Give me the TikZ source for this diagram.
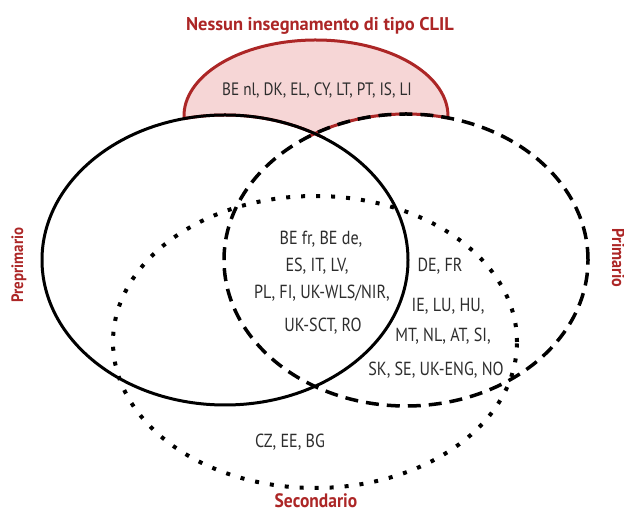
\documentclass[tikz,border=0pt]{standalone}
\usepackage{fontspec}
\setmainfont{PT Sans}
\newfontfamily\countryfont[FakeStretch=0.85]{PT Sans}
\newfontfamily\groupfont[FakeStretch=0.9]{PT Sans Bold}
\newfontfamily\titlefont{PT Sans Bold}
\usepackage{tikz}

\definecolor{clilred}{RGB}{172,38,38}
\definecolor{clilpink}{RGB}{246,214,214}
\definecolor{textgray}{RGB}{45,45,45}

\begin{document}
\begin{tikzpicture}[
				x=1bp, y=1bp,
				country list/.style={
					font=\countryfont\fontsize{19}{22}\selectfont,
					text=textgray,
					anchor=base,
					inner sep=0pt
				},
				group label/.style={
					font=\groupfont\fontsize{18}{21}\selectfont,
					text=clilred,
					anchor=base,
					inner sep=0pt
				},
				solid ring/.style={line width=3bp},
				dashed ring/.style={line width=3.5bp, dash pattern=on 13bp off 8bp},
				dotted ring/.style={line width=4bp, dash pattern=on 4bp off 11bp},
				lobe line/.style={draw=clilred, line width=3bp}
				]
				
				\useasboundingbox (0,0) rectangle (624,514);
				
				\fill[clilpink] (186.0,384.8) arc[start angle=190, end angle=-10, x radius=132, y radius=76] -- (316,376) -- cycle;
				\draw[lobe line] (186.0,384.8) arc[start angle=190, end angle=-10, x radius=132, y radius=76];
				
				\fill[white] (225,254) ellipse[x radius=183, y radius=145];
				\fill[white] (406,254) ellipse[x radius=182, y radius=146];
				
				\begin{scope}
					\clip (186.0,384.8) arc[start angle=190, end angle=-10, x radius=132, y radius=76] -- (316,376) -- cycle;
					\draw[lobe line] (225,254) ellipse[x radius=183, y radius=145];
					\draw[lobe line] (406,254) ellipse[x radius=182, y radius=146];
				\end{scope}
				
				\draw[solid ring] (225,254) ellipse[x radius=183, y radius=145];
				\draw[dashed ring] (406,254) ellipse[x radius=182, y radius=146];
				\draw[dotted ring] (315,172) ellipse[x radius=202, y radius=146];
				
				\node[group label, font=\titlefont\fontsize{18.5}{21}\selectfont] (nocliltitle) at (320,483) {Nessun insegnamento di tipo CLIL};
				\node[group label, font=\groupfont\fontsize{16.6}{20}\selectfont, rotate=90] (preprimlabel) at (23,249) {Preprimario};
				\node[group label, rotate=-90] (primlabel) at (612,256) {Primario};
				\node[group label, font=\groupfont\fontsize{19.5}{23}\selectfont] (seclabel) at (316,6) {Secondario};
				
				\node[country list, font=\countryfont\fontsize{18}{21}\selectfont] (nocliltext) at (317,418) {BE nl, DK, EL, CY, LT, PT, IS, LI};
				
				\node[country list] (core1) at (321,269) {BE fr, BE de,};
				\node[country list] (core2) at (317,242) {ES, IT, LV,};
				\node[country list] (core3) at (322,215) {PL, FI, UK-WLS/NIR,};
				\node[country list] (core4) at (323,182) {UK-SCT, RO};
				
				\node[country list] (primsec1) at (440,242) {DE, FR};
				\node[country list] (primsec2) at (448,202) {IE, LU, HU,};
				\node[country list] (primsec3) at (443,172) {MT, NL, AT, SI,};
				\node[country list] (primsec4) at (436,138) {SK, SE, UK-ENG, NO};
				
				\node[country list] (seconly) at (290,66) {CZ, EE, BG};
				
			\end{tikzpicture}
\end{document}
